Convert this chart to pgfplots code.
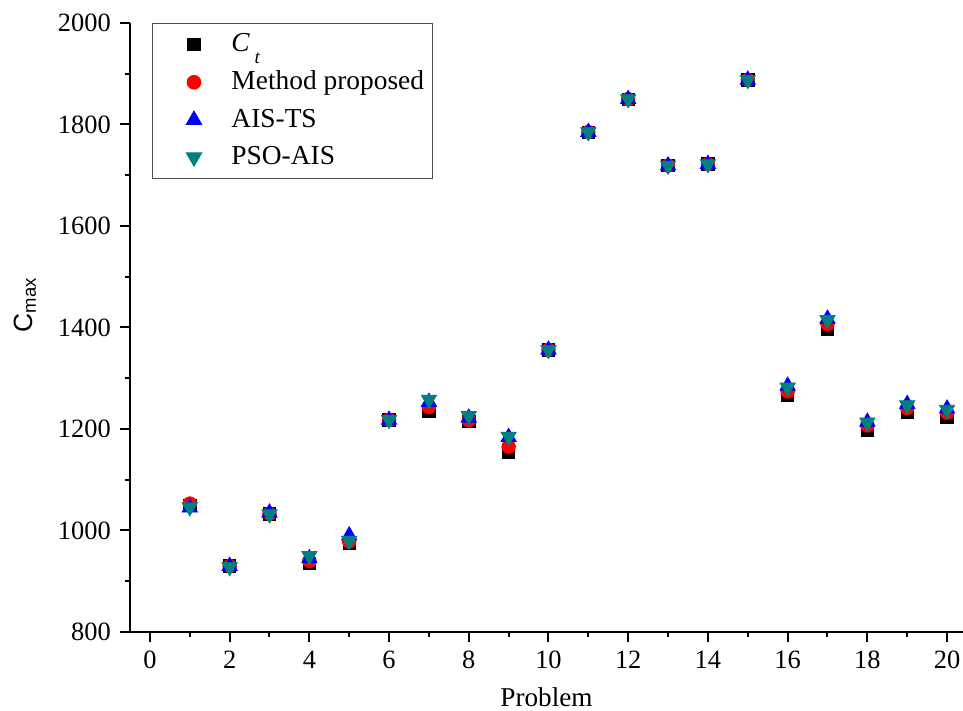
\documentclass[border=0pt]{standalone}
\usepackage{pgfplots}
\pgfplotsset{compat=1.18}
\usepackage{pgfplotstable}
\usepackage{fontspec}
\setmainfont{Liberation Serif}
\newfontfamily\arialf{Liberation Sans}
\definecolor{myteal}{RGB}{0,128,128}
\pgfplotstableread{
x ct mp ais pso
1 1050 1053 1045 1046
2 930 930 930 928
3 1033 1033 1035 1032
4 935 940 945 950
5 975 978 990 980
6 1218 1218 1218 1218
7 1236 1243 1253 1258
8 1215 1217 1222 1226
9 1155 1165 1184 1185
10 1356 1356 1356 1356
11 1785 1785 1785 1785
12 1850 1850 1850 1850
13 1719 1719 1719 1719
14 1722 1722 1722 1722
15 1888 1888 1888 1888
16 1266 1274 1285 1282
17 1397 1407 1417 1415
18 1197 1207 1214 1213
19 1233 1241 1249 1247
20 1223 1232 1240 1238
}\datatable
\begin{document}
\fontsize{13.2}{16}\selectfont
\begin{tikzpicture}[font=\fontsize{13.2}{16}\selectfont]
\begin{axis}[
  name=ax,
  scale only axis,
  width=416.5pt, height=304.5pt,
  xmin=-0.5, xmax=20.4,
  ymin=800, ymax=2000,
  axis lines*=left,
  axis line style={line width=1pt, -},
  xtick={0,2,...,20}, minor xtick={1,3,...,19},
  ytick={800,1000,...,2000}, minor ytick={900,1100,...,1900},
  tick align=outside,
  major tick length=5pt, minor tick length=2.5pt,
  every tick/.style={black, line width=1pt},
  /pgf/number format/assume math mode=true,
  /pgf/number format/1000 sep={},
  ticklabel style={font=\fontsize{13.2}{16}\selectfont},
  xlabel={Problem},
  ylabel={\arialf C\textsubscript{max}},
  every axis x label/.style={at={(rel axis cs:0.5,0)}, anchor=base, yshift=-37.5pt, font=\fontsize{13.6}{16}\selectfont},
  every axis y label/.style={at={(rel axis cs:0,0.537)}, anchor=center, rotate=90, yshift=52.5pt, font=\fontsize{13.2}{16}\selectfont},
  legend style={at={(0.0264,1)}, anchor=north west, draw=black!70, line width=0.5pt,
    font=\fontsize{13.7}{16}\selectfont, nodes={font=\fontsize{13.7}{16}\selectfont},
    inner xsep=2pt, inner ysep=3pt,
    row sep=3.6pt, cells={anchor=west}},
  legend image code/.code={\path (0pt,0pt) (35pt,0pt); \draw[#1] plot coordinates {(18.5pt,0pt)};},
  clip=false,
]
\addplot[only marks, mark=square*, mark size=3.1pt, black, mark options={draw=black, fill=black}] table[x=x,y=ct] {\datatable};
\addlegendentry{\textit{C}\,\raisebox{-0.42em}{\fontsize{9.5}{10}\selectfont\textit{t}}}
\addplot[only marks, mark=*, mark size=3.4pt, red, mark options={draw=red, fill=red}] table[x=x,y=mp] {\datatable};
\addlegendentry{Method proposed}
\addplot[only marks, mark=triangle*, mark size=4.4pt, blue, mark options={draw=blue, fill=blue}] table[x=x,y=ais] {\datatable};
\addlegendentry{AIS-TS}
\addplot[only marks, mark=triangle*, mark size=4.4pt, myteal, mark options={draw=myteal, fill=myteal, rotate=180}] table[x=x,y=pso] {\datatable};
\addlegendentry{PSO-AIS}
\end{axis}
\pgfresetboundingbox
\path[use as bounding box] ([xshift=-65pt,yshift=-39.5pt]ax.south west) rectangle ([yshift=11.5pt]ax.north east);
\end{tikzpicture}
\end{document}
